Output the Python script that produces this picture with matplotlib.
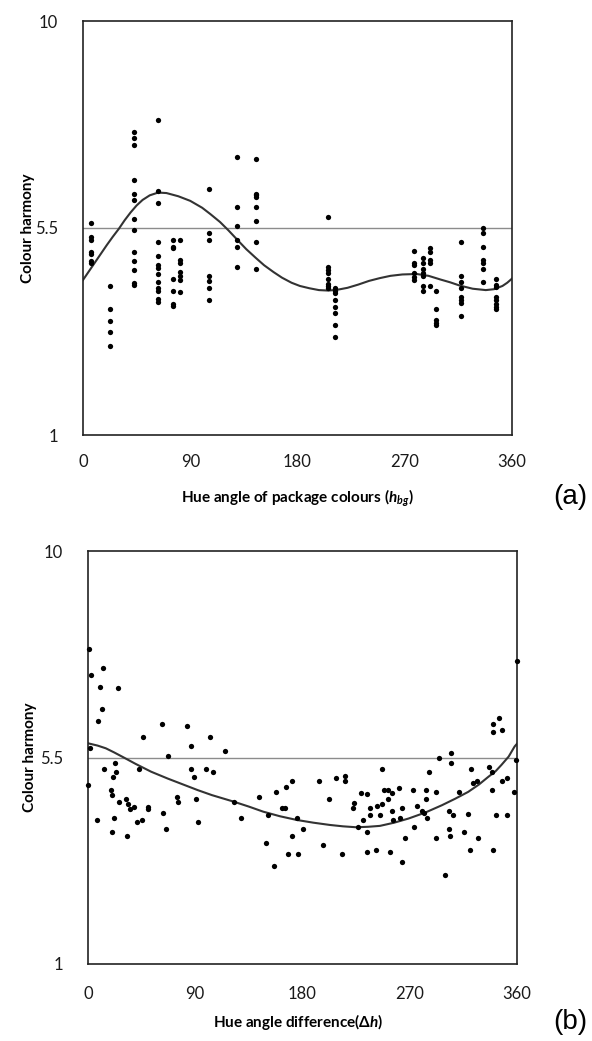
import matplotlib
matplotlib.use("Agg")
import matplotlib.pyplot as plt

plt.rcParams['font.family'] = ['Lato', 'DejaVu Sans']
plt.rcParams['mathtext.fontset'] = 'custom'
plt.rcParams['mathtext.rm'] = 'Lato'
plt.rcParams['mathtext.bf'] = 'Lato:bold'
plt.rcParams['mathtext.it'] = 'Lato:italic'
plt.rcParams['mathtext.bfit'] = 'Lato:bold:italic'

# ---------------- Panel (a) data ----------------
cluster_hue = [7, 23, 43, 63, 75.5, 81.4, 105.4, 129.5, 144.9, 205.9, 211.5,
               277.5, 285.6, 291.2, 296.5, 316.9, 335.4, 346.6]
cluster_harmony = [
    [5.60, 5.31, 5.25, 4.98, 4.93, 4.79, 4.73],
    [4.25, 3.74, 3.48, 3.23, 2.93],
    [7.59, 7.45, 7.30, 6.54, 6.25, 6.11, 5.70, 5.46, 4.98, 4.79, 4.59, 4.31, 4.26],
    [7.85, 6.30, 6.05, 5.19, 4.90, 4.70, 4.62, 4.51, 4.33, 4.19, 4.14, 3.95, 3.90],
    [5.25, 5.09, 5.06, 4.39, 4.14, 3.85, 3.80],
    [5.25, 4.80, 4.73, 4.55, 4.46, 4.38, 4.10],
    [6.35, 5.40, 5.25, 4.45, 4.35, 4.20, 3.93],
    [7.05, 5.95, 5.55, 5.25, 5.09, 4.65],
    [7.00, 6.25, 6.22, 6.18, 5.95, 5.65, 5.19, 4.60],
    [5.75, 4.66, 4.59, 4.53, 4.39, 4.28, 4.24, 4.20],
    [4.19, 4.14, 4.09, 3.93, 3.79, 3.65, 3.39, 3.14],
    [5.00, 4.75, 4.70, 4.52, 4.44, 4.38],
    [4.85, 4.75, 4.60, 4.52, 4.46, 4.24, 4.13],
    [5.06, 4.98, 4.80, 4.73, 4.25],
    [4.14, 3.74, 3.50, 3.44, 3.39],
    [5.19, 4.46, 4.33, 4.19, 4.01, 3.93, 3.86, 3.59],
    [5.51, 5.40, 5.09, 4.80, 4.75, 4.60, 4.33],
    [4.39, 4.26, 4.21, 4.01, 3.93, 3.85, 3.78, 3.73],
]
curve_a_hue = [0, 5, 10, 15, 20, 25, 30, 35, 40, 45, 50, 56, 63, 70, 80, 90,
               100, 107, 115, 122, 130, 137, 145, 152, 160, 167, 175, 182, 190,
               198, 206, 214, 222, 231, 240, 249, 258, 268, 280, 290, 300, 308,
               316, 327, 338, 345, 352, 356, 360]
curve_a_harmony = [4.37, 4.56, 4.75, 4.94, 5.13, 5.31, 5.48, 5.67, 5.84, 5.99,
                   6.11, 6.21, 6.27, 6.26, 6.19, 6.09, 5.94, 5.80, 5.63, 5.45,
                   5.23, 5.04, 4.85, 4.69, 4.54, 4.42, 4.31, 4.24, 4.19, 4.15,
                   4.14, 4.16, 4.20, 4.27, 4.35, 4.41, 4.46, 4.49, 4.50, 4.46,
                   4.38, 4.32, 4.25, 4.18, 4.15, 4.17, 4.24, 4.31, 4.40]

# ---------------- Panel (b) data ----------------
dh_b = [0.8, 2.5, 12.9, 10.1, 25.5, 12.0, 8.7, 1.7, 0.3, 46.4, 61.8, 82.8, 86.4,
        102.4, 115, 67.4, 13.7, 22.7, 23.2, 21.2, 43.1, 86.4, 89.2, 99.0, 104.6,
        19.3, 20.4, 26.3, 31.9, 33.3, 35.2, 38.6, 50.6, 50.6, 74.9, 75.3, 90.6,
        62.7, 7.8, 22.1, 40.8, 45.6, 92.0, 19.9, 33.0, 65.2,
        122.5, 128.4, 143.8, 151.3, 149.1, 156.4, 157.8, 163.1, 165.3, 165.9,
        171.4, 175.6, 180.7, 170.9, 168.1, 176.5, 194.1, 202.2, 196.9, 208.1,
        215.7, 215.7, 212.9, 223.4, 222.6, 228.8, 234.4, 226.8, 231, 233.8,
        236.6, 236.6, 242.8, 233.8, 241.3,
        247, 245, 247, 251.5, 248.6, 251.5, 254.8, 254.8, 255.7, 261, 261.8,
        263.8, 266, 263.2, 253.4, 273, 273.9, 276.3, 280, 282.2, 284.2, 283.3,
        283.6, 286.4, 292, 291.7, 294.5, 304.6, 304.6, 302.9, 306, 302.9, 303.8,
        299.6, 311.6, 315.8, 318.6, 320.6, 321.4, 323.3, 326.1, 327.5, 336.5,
        339.3, 339.3, 339.6, 342.1, 340.1, 339.6, 345.1, 347.7, 347.1, 351.8,
        351.8, 357.7, 358.9, 359.7]
harm_b = [7.86, 7.30, 7.44, 7.04, 7.01, 6.55, 6.30, 5.70, 4.90, 5.95, 6.24, 6.19,
          5.74, 5.95, 5.64, 5.54, 5.24, 5.39, 5.19, 5.08, 5.24, 5.24, 5.08, 5.24,
          5.19, 4.79, 4.68, 4.54, 4.59, 4.49, 4.38, 4.43, 4.43, 4.37, 4.65, 4.54,
          4.59, 4.28, 4.14, 4.19, 4.09, 4.14, 4.09, 3.88, 3.79, 3.94,
          4.54, 4.19, 4.65, 4.25, 3.63, 3.14, 4.74, 4.39, 4.39, 4.85,
          4.99, 4.19, 3.94, 3.79, 3.39, 3.39, 4.99, 4.59, 3.59, 5.05,
          5.10, 4.99, 3.39, 4.50, 4.39, 4.73, 4.70, 3.99, 4.14, 3.88,
          4.39, 4.25, 4.44, 3.43, 3.48,
          5.24, 4.25, 4.49, 4.59, 4.79, 4.79, 4.73, 4.33, 4.14, 4.84, 4.19,
          4.39, 3.74, 3.23, 3.43, 4.79, 3.99, 4.44, 4.33, 4.30, 4.19, 4.59,
          4.79, 5.19, 4.74, 3.74, 5.50, 5.59, 5.39, 4.33, 4.25, 3.94, 3.79,
          2.93, 4.74, 3.88, 4.26, 3.48, 5.24, 4.94, 4.99, 3.74, 5.30,
          5.19, 4.79, 3.48, 4.25, 6.24, 6.05, 6.35, 6.10, 4.99, 5.05,
          4.25, 4.74, 5.44, 7.60]
curve_b_dh = [0, 8, 15, 22, 30, 40, 53, 67, 81, 92, 104, 113, 122, 135, 147,
              161, 175, 189, 203, 214, 225, 235, 245, 257, 269, 283, 297, 308,
              319, 328, 336, 342, 347, 353, 358, 360]
curve_b_harmony = [5.81, 5.76, 5.70, 5.61, 5.50, 5.36, 5.19, 5.04, 4.90, 4.79,
                   4.68, 4.61, 4.54, 4.43, 4.32, 4.22, 4.14, 4.08, 4.03, 4.00,
                   3.98, 3.99, 4.01, 4.08, 4.17, 4.30, 4.46, 4.60, 4.75, 4.91,
                   5.08, 5.20, 5.34, 5.52, 5.74, 5.80]

x_ticks = [0, 90, 180, 270, 360]
y_ticks = [1, 5.5, 10]
ref_level = 5.5

W, H = 592, 1041
fig = plt.figure(figsize=(W / 100, H / 100), dpi=100)
ax_a = fig.add_axes([83 / W, 1 - 435 / H, 429 / W, 414 / H])
ax_b = fig.add_axes([88 / W, 1 - 964 / H, 429 / W, 413 / H])


def style(ax, xpad, ylab_x):
    ax.set_xlim(0, 360)
    ax.set_ylim(1, 10)
    ax.set_xticks(x_ticks)
    ax.set_yticks(y_ticks)
    ax.set_yticklabels(['1', '5.5', '10'])
    ax.tick_params(length=0, labelsize=12, colors='#1a1a1a')
    ax.tick_params(axis='y', pad=18)
    ax.tick_params(axis='x', pad=xpad)
    for s in ax.spines.values():
        s.set_linewidth(1.2)
        s.set_color('#222222')
    ax.axhline(ref_level, color='#8c8c8c', lw=1.0, zorder=1)
    ax.set_ylabel('Colour harmony', fontsize=11, fontweight='bold')
    ax.yaxis.set_label_coords(ylab_x, 0.5)
    ax.yaxis.label.set_va('center')


style(ax_a, 14, (28 - 83) / 429)
for hx, vals in zip(cluster_hue, cluster_harmony):
    ax_a.plot([hx] * len(vals), vals, 'o', color='black', ms=3.8, mew=0,
              clip_on=False, zorder=3)
ax_a.plot(curve_a_hue, curve_a_harmony, color='#333333', lw=1.5, zorder=2)
ax_a.set_xlabel(r'Hue angle of package colours ($\mathbfit{h}_{\mathbfit{bg}}$)',
                fontsize=11, fontweight='bold')
ax_a.xaxis.set_label_coords(0.5, (435 - 498) / 414)
ax_a.xaxis.label.set_va('center')

style(ax_b, 16, (30 - 88) / 429)
ax_b.plot(dh_b, harm_b, 'o', color='black', ms=3.8, mew=0, clip_on=False, zorder=3)
ax_b.plot(curve_b_dh, curve_b_harmony, color='#333333', lw=1.5, zorder=2)
ax_b.set_xlabel(r'Hue angle difference($\mathbf{\Delta}\mathbfit{h}$)',
                fontsize=11, fontweight='bold')
ax_b.xaxis.set_label_coords((298 - 88) / 429, (964 - 1022) / 413)
ax_b.xaxis.label.set_va('center')

fig.text(553 / W, 1 - 497 / H, '(a)', fontsize=20, family='Liberation Sans',
         ha='left', va='center')
fig.text(553 / W, 1 - 1022 / H, '(b)', fontsize=20, family='Liberation Sans',
         ha='left', va='center')

fig.savefig('out.png', dpi=100)
